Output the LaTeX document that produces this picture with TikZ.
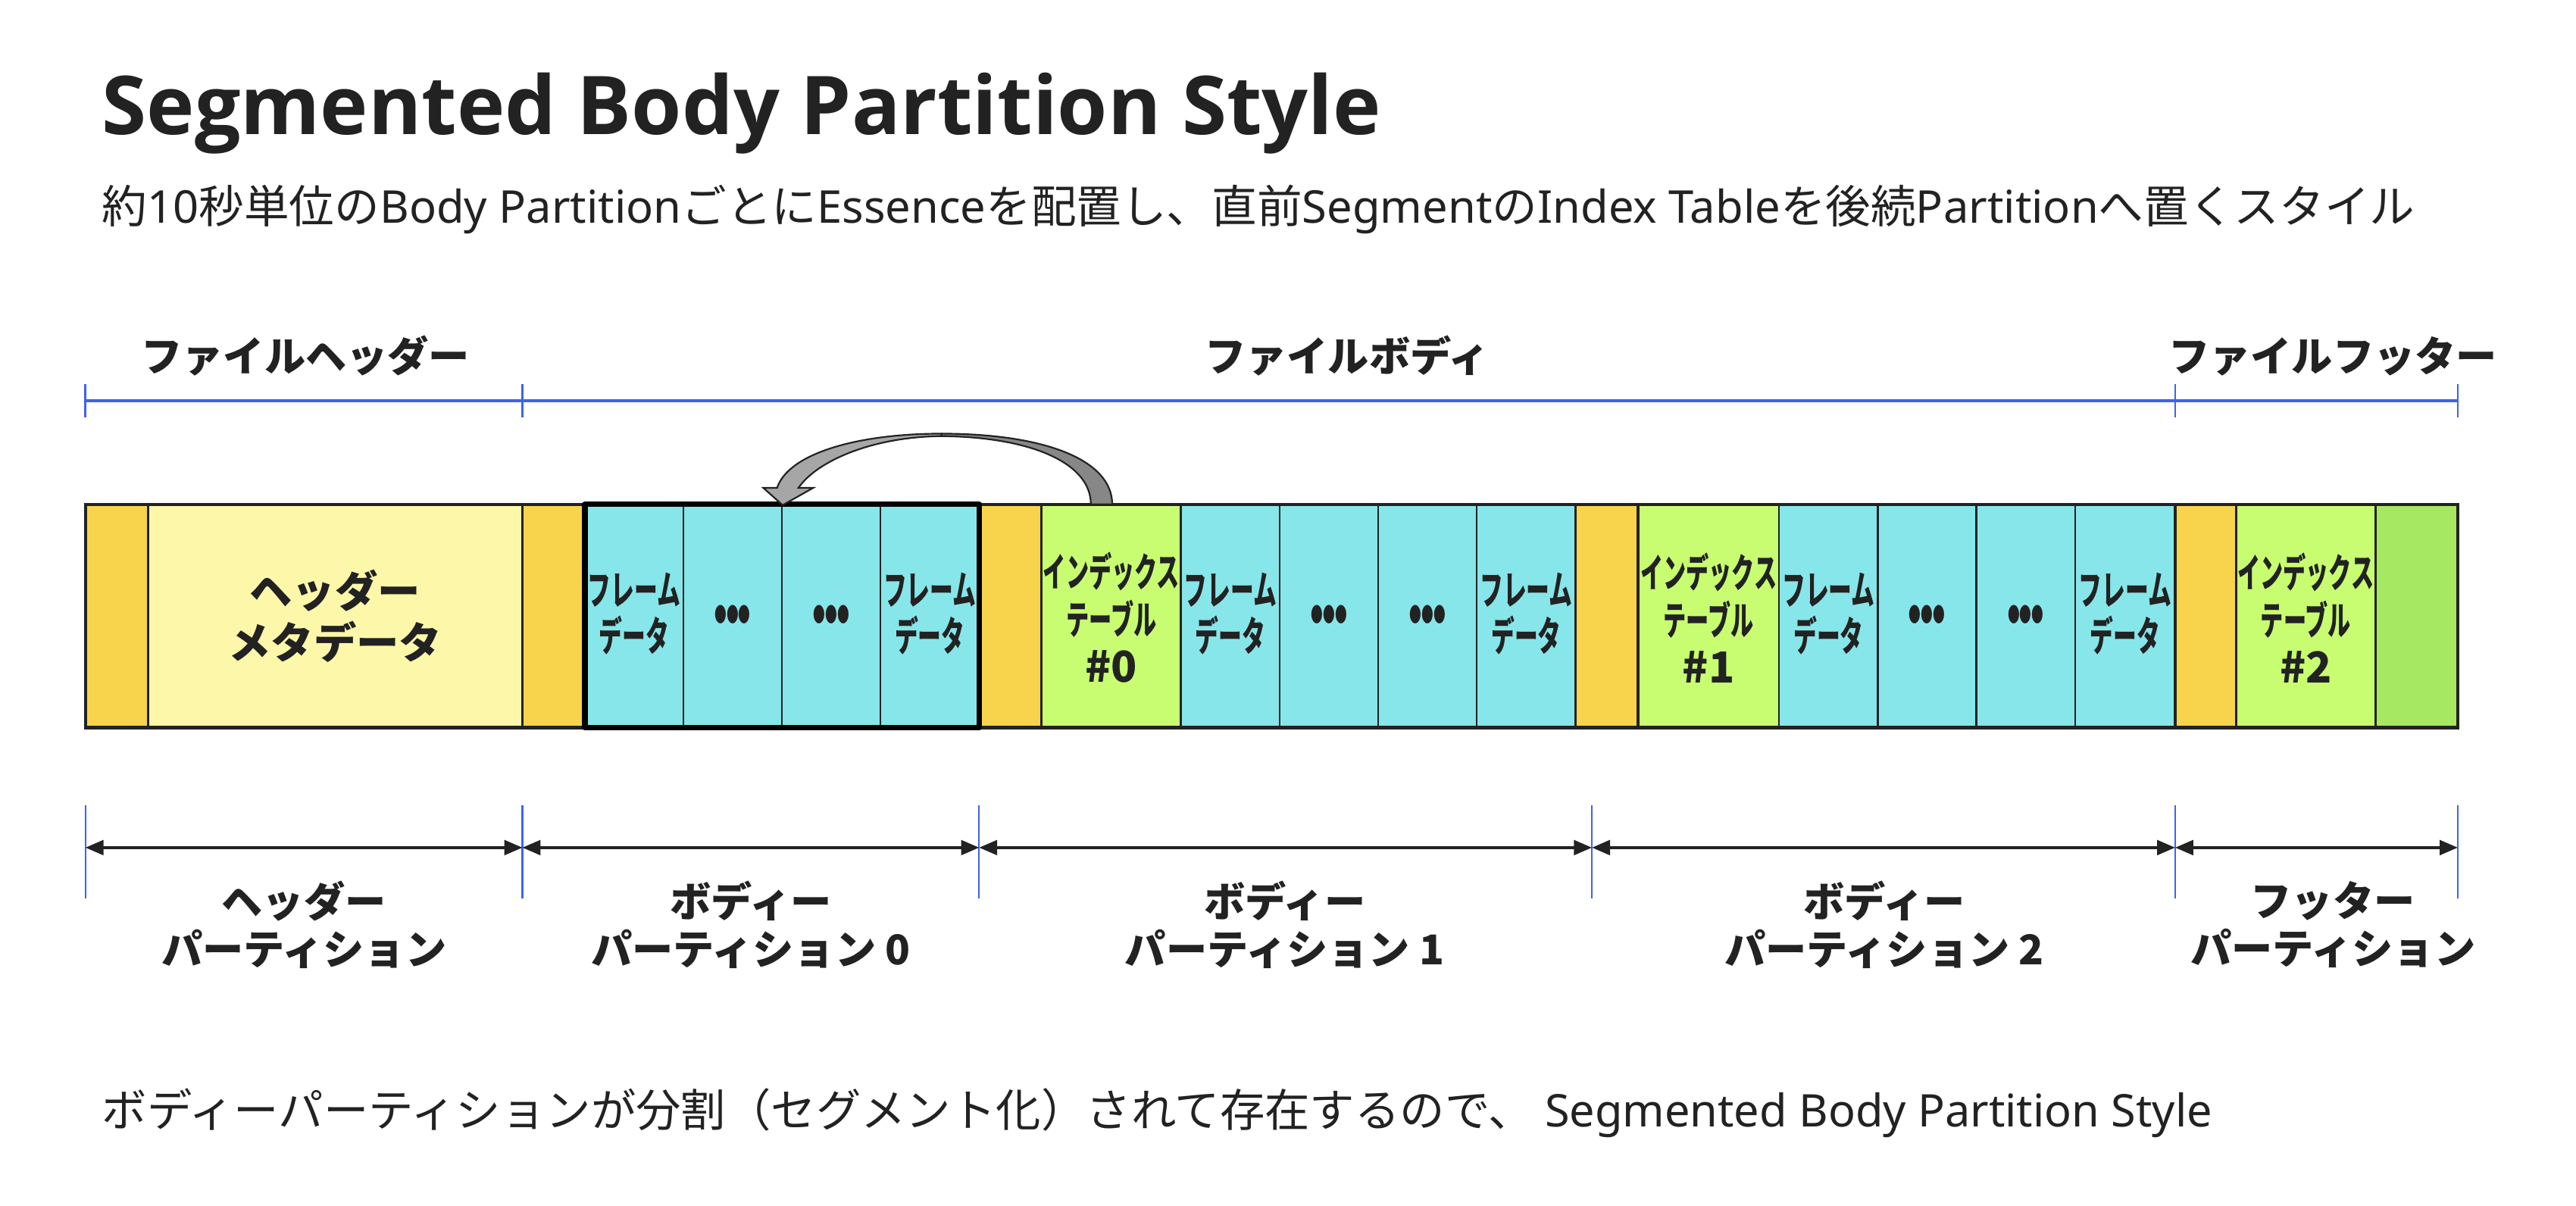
\documentclass[tikz,border=0pt]{standalone}
\usepackage{fontspec}
\usetikzlibrary{arrows.meta}
\setmainfont{Noto Sans}
\IfFontExistsTF{Open Sans Bold}
  {\newfontfamily\ttl{Open Sans Bold}}
  {\newfontfamily\ttl{Noto Sans}[FakeBold=2.5, FakeStretch=1.05]}
\newfontfamily\jp{Noto Sans CJK JP}
\newfontfamily\jpc{Noto Sans CJK JP}[FakeStretch=0.58]
\definecolor{orng}{HTML}{F7D44C}
\definecolor{lyel}{HTML}{FDF8A9}
\definecolor{cyn}{HTML}{87E6EA}
\definecolor{grn}{HTML}{C8FD72}
\definecolor{dgrn}{HTML}{A6E862}
\definecolor{bluel}{HTML}{3F62F2}
\definecolor{linec}{HTML}{222222}
\definecolor{agrayA}{HTML}{A6A6A6}
\definecolor{agrayB}{HTML}{878787}
\tikzset{
  cellbox/.style={draw=linec, line width=1.5pt, minimum height=136pt, inner sep=0pt, outer sep=0pt, anchor=west},
  thinbox/.style={cellbox, line width=1pt},
  celltext/.style={align=center, inner sep=0pt, text=linec},
  framefont/.style={celltext, font=\jpc\bfseries\fontsize{24.5}{28}\selectfont},
  idxfont/.style={celltext, font=\jpc\bfseries\fontsize{24}{29}\selectfont},
  dotfont/.style={celltext, font=\jpc\fontsize{12.5}{14}\selectfont},
  labfont/.style={font=\jp\bfseries\fontsize{25}{29}\selectfont, align=center, inner sep=0pt, text=linec},
  bluetop/.style={draw=bluel, line width=2pt},
  bluetick/.style={draw=bluel, line width=1.2pt},
  dimline/.style={draw=linec, line width=1.6pt, {Triangle[length=11pt,width=9pt]}-{Triangle[length=11pt,width=9pt]}},
}
\newcommand{\frd}{フレーム\\データ}
\newcommand{\idx}[1]{インデックス\\テーブル\\{\jp\bfseries\fontsize{26}{29}\selectfont\##1}}
\begin{document}
\begin{tikzpicture}[x=1pt,y=-1pt]
\useasboundingbox[fill=white] (0,0) rectangle (1568,734);

% title and subtitle
\node[anchor=base west, inner sep=0pt, font=\ttl\fontsize{49.4}{60}\selectfont, text=linec] (title) at (62,82) {Segmented Body Partition Style};
\node[anchor=base west, inner sep=0pt, font=\fontsize{27.5}{32}\selectfont, text=linec] (sub) at (62,136)
  {{\jp 約}10{\jp 秒単位の}Body Partition{\jp ごとに}Essence{\jp を配置し、直前}Segment{\jp の}Index Table{\jp を後続}Partition{\jp へ置くスタイル}};

% top labels
\node[labfont, anchor=base] (lh) at (186,226) {ファイルヘッダー};
\node[labfont, anchor=base] (lb) at (820,226) {ファイルボディ};
\node[labfont, anchor=base] (lf) at (1420,226) {ファイルフッター};

% top brackets
\coordinate (t0) at (52,244);
\coordinate (t1) at (318,244);
\coordinate (t2) at (1324,244);
\coordinate (t3) at (1496,244);
\draw[bluetop] (t0) -- (t3);
\foreach \p in {t0,t1,t2,t3} \draw[bluetick] ([yshift=-10pt]\p) -- ([yshift=10pt]\p);

% bar cells
\node[cellbox, fill=orng, minimum width=38pt] (o1) at (52,375) {};
\node[cellbox, fill=lyel, minimum width=228pt] (hm) at (90,375) {};
\node[cellbox, fill=orng, minimum width=38pt] (o2) at (318,375) {};
\node[thinbox, fill=cyn, minimum width=60pt] (f1) at (356,375) {};
\node[thinbox, fill=cyn, minimum width=60pt] (e1) at (416,375) {};
\node[thinbox, fill=cyn, minimum width=60pt] (e2) at (476,375) {};
\node[thinbox, fill=cyn, minimum width=60pt] (f2) at (536,375) {};
\node[cellbox, fill=orng, minimum width=38pt] (o3) at (596,375) {};
\node[cellbox, fill=grn, minimum width=85pt] (i0) at (634,375) {};
\node[thinbox, fill=cyn, minimum width=60pt] (f3) at (719,375) {};
\node[thinbox, fill=cyn, minimum width=60pt] (e3) at (779,375) {};
\node[thinbox, fill=cyn, minimum width=60pt] (e4) at (839,375) {};
\node[thinbox, fill=cyn, minimum width=60pt] (f4) at (899,375) {};
\node[cellbox, fill=orng, minimum width=38pt] (o4) at (959,375) {};
\node[cellbox, fill=grn, minimum width=86pt] (i1) at (997,375) {};
\node[thinbox, fill=cyn, minimum width=60pt] (f5) at (1083,375) {};
\node[thinbox, fill=cyn, minimum width=60pt] (e5) at (1143,375) {};
\node[thinbox, fill=cyn, minimum width=60pt] (e6) at (1203,375) {};
\node[thinbox, fill=cyn, minimum width=61pt] (f6) at (1263,375) {};
\node[cellbox, fill=orng, minimum width=37pt] (o5) at (1324,375) {};
\node[cellbox, fill=grn, minimum width=85pt] (i2) at (1361,375) {};
\node[cellbox, fill=dgrn, minimum width=50pt] (g1) at (1446,375) {};

% cell texts
\node[celltext, font=\jp\bfseries\fontsize{26}{31}\selectfont] (hmt) at (hm.center) {ヘッダー\\メタデータ};
\foreach \c in {f1,f2,f3,f4,f5,f6} \node[framefont] (\c t) at ([yshift=1.5pt]\c.center) {\frd};
\foreach \c in {e1,e2,e3,e4,e5,e6} \node[dotfont] (\c t) at ([yshift=1pt]\c.center) {●●●};
\node[idxfont] (i0t) at ([yshift=-1pt]i0.center) {\idx{0}};
\node[idxfont] (i1t) at ([yshift=-1pt]i1.center) {\idx{1}};
\node[idxfont] (i2t) at ([yshift=-1pt]i2.center) {\idx{2}};

% outer border and emphasised segment
\draw[linec, line width=2pt] (o1.north west) rectangle (g1.south east);
\draw[black, line width=3.5pt, line join=round] (f1.north west) rectangle (f2.south east);

% curved gray arrow (from index table #0 back to the previous segment)
\path[draw=linec, line width=1pt, fill=agrayB, line join=round]
  (664,307) .. controls (664,282) and (628,266) .. (573,265.5) -- (573,264)
  .. controls (636,264) and (677,280) .. (677,307) -- cycle;
\path[draw=linec, line width=1pt, fill=agrayA, line join=miter]
  (573,264) .. controls (522,264) and (480,276) .. (473,297) -- (464.6,297) -- (476.4,307.5) -- (495,297) -- (486,297)
  .. controls (497,281) and (530,266) .. (573,265.5) -- cycle;

% bottom dimensions
\coordinate (d0) at (52,516);
\coordinate (d1) at (318,516);
\coordinate (d2) at (596,516);
\coordinate (d3) at (969,516);
\coordinate (d4) at (1324,516);
\coordinate (d5) at (1496,516);
\foreach \p in {d0,d1,d2,d3,d4,d5} \draw[bluetick, line width=1pt] ([yshift=-31pt]\p) -- ([yshift=26pt]\p);
\draw[dimline] (d0) -- (d1);
\draw[dimline] (d1) -- (d2);
\draw[dimline] (d2) -- (d3);
\draw[dimline] (d3) -- (d4);
\draw[dimline] (d4) -- (d5);

\node[labfont] (p0) at (185,563) {ヘッダー\\パーティション};
\node[labfont] (p1) at (457,563) {ボディー\\パーティション 0};
\node[labfont] (p2) at (782,563) {ボディー\\パーティション 1};
\node[labfont] (p3) at (1147,563) {ボディー\\パーティション 2};
\node[labfont] (p4) at (1420,563) {フッター\\パーティション};

% bottom sentence
\node[anchor=base west, inner sep=0pt, font=\fontsize{27.4}{32}\selectfont, text=linec] (note) at (62,686)
  {{\jp ボディーパーティションが分割（セグメント化）されて存在するので、} Segmented Body Partition Style};
\end{tikzpicture}
\end{document}
